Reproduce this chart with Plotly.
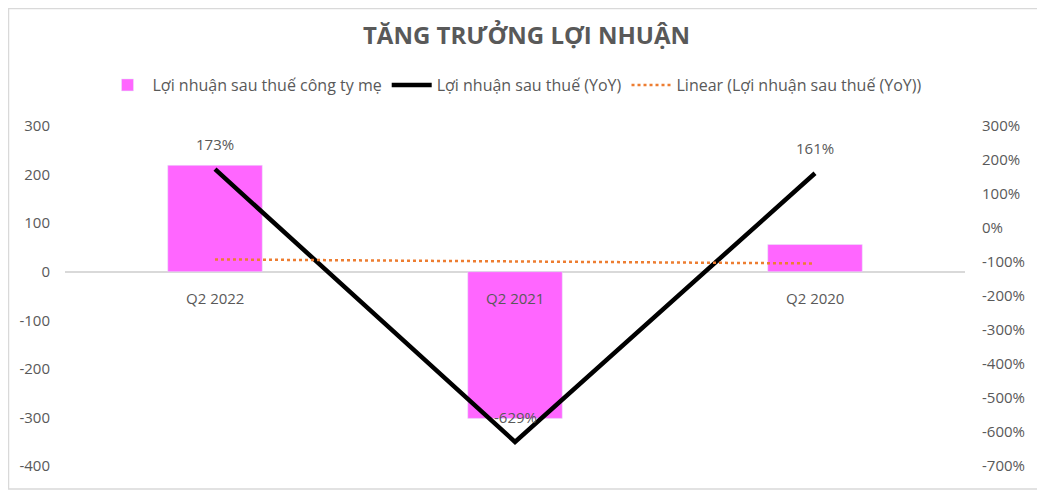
import numpy as np
import plotly.graph_objects as go

quarters = ["Q2 2022", "Q2 2021", "Q2 2020"]
profit = [219, -302, 56]          # Lợi nhuận sau thuế công ty mẹ
growth = [1.73, -6.29, 1.61]      # Lợi nhuận sau thuế (YoY)
left_ticks = [300, 200, 100, 0, -100, -200, -300, -400]
right_ticks = [3, 2, 1, 0, -1, -2, -3, -4, -5, -6, -7]

# linear trendline of the YoY series (same as Excel's "Linear" trendline)
idx = np.arange(1, len(growth) + 1)
slope, icpt = np.polyfit(idx, growth, 1)
trend = slope * idx + icpt

font = "Open Sans"
grey = "#595959"

fig = go.Figure()
fig.add_trace(go.Bar(x=quarters, y=profit, name="Lợi nhuận sau thuế công ty mẹ",
                     marker_color="#FF66FF", width=0.315))
fig.add_trace(go.Scatter(x=quarters, y=growth, name="Lợi nhuận sau thuế (YoY)", yaxis="y2",
                         mode="lines", line=dict(color="black", width=4.5)))
fig.add_trace(go.Scatter(x=quarters, y=trend, name="Linear (Lợi nhuận sau thuế (YoY))", yaxis="y2",
                         mode="lines", line=dict(color="#ED7D31", width=2.5, dash="dot")))

# data labels above the YoY points
for q, g in zip(quarters, growth):
    fig.add_annotation(x=q, y=g, xref="x", yref="y2", text=f"{g:.0%}", showarrow=False,
                       yshift=25, font=dict(size=15, color=grey, family=font))

# category labels sit next to the zero line of the left axis
for q in quarters:
    fig.add_annotation(x=q, y=0, xref="x", yref="y", text=q, showarrow=False,
                       yshift=-26, font=dict(size=15, color=grey, family=font))

# chart frame
fig.add_shape(type="rect", xref="paper", yref="paper",
              x0=-56.5 / 900, x1=1 + 79 / 900, y0=-23 / 340, y1=1 + 117.5 / 340,
              line=dict(color="#D9D9D9", width=1.5), layer="below")

fig.update_layout(
    width=1037, height=483,
    margin=dict(l=57, r=80, t=118, b=25),
    paper_bgcolor="white", plot_bgcolor="white",
    font=dict(family=font, color=grey, size=15),
    title=dict(text="<b>TĂNG TRƯỞNG LỢI NHUẬN</b>", x=0.5, xanchor="center",
               y=1 - 28 / 483, yanchor="middle", font=dict(size=24, color=grey, family=font)),
    showlegend=True,
    legend=dict(orientation="h", x=0.5, xanchor="center", y=1 + 41 / 340, yanchor="middle",
                font=dict(size=16, color=grey, family=font), itemwidth=40,
                traceorder="normal"),
    bargap=0.5,
    xaxis=dict(type="category", categoryorder="array", categoryarray=quarters,
               range=[-0.5, 2.5], showticklabels=False, showgrid=False, zeroline=False,
               showline=False, ticks=""),
    yaxis=dict(range=[-400, 300], tickvals=left_ticks, ticktext=[str(v) for v in left_ticks],
               showgrid=False, zeroline=True, ticklabelstandoff=14,
               zerolinecolor="#D9D9D9", zerolinewidth=1.5, ticks="",
               tickfont=dict(size=15, color=grey, family=font)),
    yaxis2=dict(range=[-7, 3], tickvals=right_ticks, ticktext=[f"{v * 100}%" for v in right_ticks],
                overlaying="y", side="right", ticklabelstandoff=16,
                showgrid=False, zeroline=False, ticks="",
                tickfont=dict(size=15, color=grey, family=font)),
)

fig.write_html("out.html")
